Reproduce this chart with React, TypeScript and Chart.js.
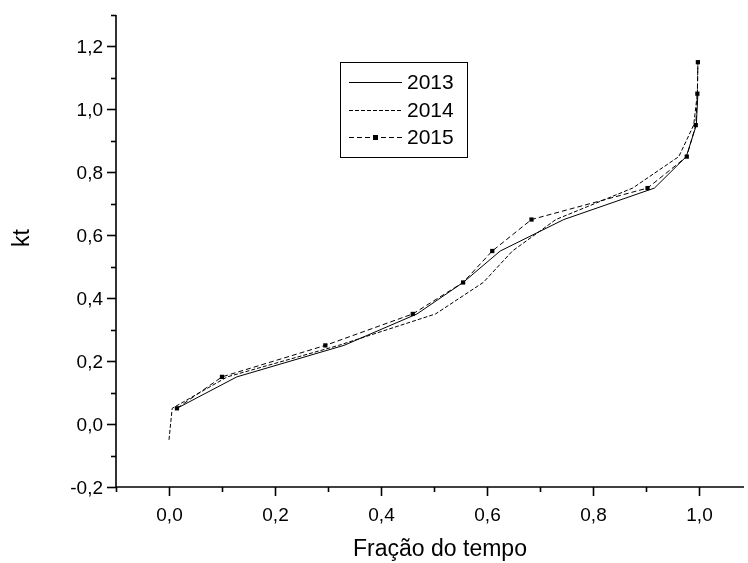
import React, { useEffect, useRef } from "react";
import { Chart, registerables } from "chart.js";

Chart.register(...registerables);

// Data
const frac2013 = [0.015, 0.128, 0.33, 0.468, 0.555, 0.625, 0.745, 0.916, 0.976, 0.995, 0.998];
const kt2013 = [0.05, 0.15, 0.25, 0.35, 0.45, 0.55, 0.65, 0.75, 0.85, 0.95, 1.05];

const frac2014 = [0.0, 0.006, 0.11, 0.32, 0.503, 0.593, 0.648, 0.73, 0.875, 0.962, 0.99, 0.997, 0.998];
const kt2014 = [-0.05, 0.05, 0.15, 0.25, 0.35, 0.45, 0.55, 0.65, 0.75, 0.85, 0.95, 1.05, 1.15];

const frac2015 = [0.015, 0.1, 0.295, 0.46, 0.555, 0.61, 0.684, 0.903, 0.977, 0.994, 0.997, 0.998];
const kt2015 = [0.05, 0.15, 0.25, 0.35, 0.45, 0.55, 0.65, 0.75, 0.85, 0.95, 1.05, 1.15];

const seriesNames = ["2013", "2014", "2015"];
const xTickValues = [-0.1, 0.0, 0.1, 0.2, 0.3, 0.4, 0.5, 0.6, 0.7, 0.8, 0.9, 1.0];
const yTickValues = [-0.2, -0.1, 0.0, 0.1, 0.2, 0.3, 0.4, 0.5, 0.6, 0.7, 0.8, 0.9, 1.0, 1.1, 1.2, 1.3];
const xTitle = "Fração do tempo";
const yTitle = "kt";

const FONT = "'Liberation Sans', Arial, sans-serif";

function fmt(v: number): string {
  return v.toFixed(1).replace(".", ",");
}
function isMajor(v: number): boolean {
  const k = Math.round(v * 10);
  return k % 2 === 0;
}

function toPoints(xs: number[], ys: number[]) {
  return xs.map((x, i) => ({ x, y: ys[i] }));
}

const axesPlugin = {
  id: "originAxes",
  afterDraw(chart: any) {
    const ctx = chart.ctx as CanvasRenderingContext2D;
    const ca = chart.chartArea;
    const xs = chart.scales.x;
    const ys = chart.scales.y;
    ctx.save();
    ctx.strokeStyle = "#000";
    ctx.fillStyle = "#000";
    ctx.lineWidth = 1.6;
    ctx.setLineDash([]);
    // axis lines
    ctx.beginPath();
    ctx.moveTo(ca.left, ca.top);
    ctx.lineTo(ca.left, ca.bottom);
    ctx.moveTo(ca.left, ca.bottom);
    ctx.lineTo(ca.right, ca.bottom);
    ctx.stroke();

    // x ticks
    ctx.font = `19px ${FONT}`;
    ctx.textAlign = "center";
    ctx.textBaseline = "alphabetic";
    xTickValues.forEach((v) => {
      const px = Math.round(xs.getPixelForValue(v)) + 0.5;
      const major = isMajor(v);
      ctx.beginPath();
      ctx.moveTo(px, ca.bottom);
      ctx.lineTo(px, ca.bottom + (major ? 9 : 5));
      ctx.stroke();
      if (major) ctx.fillText(fmt(v), px, ca.bottom + 34);
    });

    // y ticks
    ctx.textAlign = "right";
    ctx.textBaseline = "middle";
    yTickValues.forEach((v) => {
      const py = Math.round(ys.getPixelForValue(v)) + 0.5;
      const major = isMajor(v);
      ctx.beginPath();
      ctx.moveTo(ca.left, py);
      ctx.lineTo(ca.left - (major ? 9 : 5), py);
      ctx.stroke();
      if (major) ctx.fillText(fmt(v), ca.left - 13, py + 1);
    });

    // axis titles
    ctx.font = `23px ${FONT}`;
    ctx.textAlign = "center";
    ctx.textBaseline = "middle";
    ctx.fillText(xTitle, 440, 550);
    ctx.save();
    ctx.translate(23, 238);
    ctx.rotate(-Math.PI / 2);
    ctx.fillText(yTitle, 0, 0);
    ctx.restore();

    // legend
    const bx = 340, by = 62, bw = 127, bh = 95;
    ctx.lineWidth = 1;
    ctx.strokeRect(bx + 0.5, by + 0.5, bw, bh);
    const rows = [82, 110, 137];
    const dashes = [[], [4, 2], [5, 3]];
    ctx.font = `21px ${FONT}`;
    ctx.textAlign = "left";
    ctx.textBaseline = "middle";
    seriesNames.forEach((name, i) => {
      const ry = rows[i] + 0.5;
      ctx.setLineDash(dashes[i]);
      ctx.beginPath();
      ctx.moveTo(349, ry);
      ctx.lineTo(402, ry);
      ctx.stroke();
      ctx.setLineDash([]);
      if (i === 2) {
        ctx.fillRect(373, ry - 2.5, 5, 5);
      }
      ctx.fillText(name, 407, rows[i] + 1);
    });
    ctx.restore();
  },
};

export default function App() {
  const canvasRef = useRef<HTMLCanvasElement | null>(null);

  useEffect(() => {
    const canvas = canvasRef.current;
    if (!canvas) return;
    const chart = new Chart(canvas, {
      type: "line",
      data: {
        datasets: [
          {
            label: seriesNames[0],
            data: toPoints(frac2013, kt2013),
            borderColor: "#000",
            borderWidth: 1,
            pointRadius: 0,
            tension: 0,
            fill: false,
          },
          {
            label: seriesNames[1],
            data: toPoints(frac2014, kt2014),
            borderColor: "#000",
            borderWidth: 1,
            borderDash: [4, 2],
            pointRadius: 0,
            tension: 0,
            fill: false,
          },
          {
            label: seriesNames[2],
            data: toPoints(frac2015, kt2015),
            borderColor: "#000",
            backgroundColor: "#000",
            borderWidth: 1,
            borderDash: [5, 3],
            pointStyle: "rect",
            pointRadius: 3,
            pointBorderWidth: 0,
            pointBackgroundColor: "#000",
            tension: 0,
            fill: false,
          },
        ],
      },
      options: {
        responsive: false,
        animation: false,
        events: [],
        layout: { padding: { left: 116, top: 15, right: 0, bottom: 76 } },
        plugins: {
          legend: { display: false },
          tooltip: { enabled: false },
        },
        scales: {
          x: { type: "linear", min: -0.1, max: 1.085, display: false },
          y: { type: "linear", min: -0.2, max: 1.3, display: false },
        },
      },
      plugins: [axesPlugin],
    });
    return () => chart.destroy();
  }, []);

  return (
    <div style={{ position: "fixed", left: 0, top: 0, width: 748, height: 563, background: "#fff" }}>
      <canvas ref={canvasRef} width={748} height={563} style={{ display: "block" }} />
    </div>
  );
}
